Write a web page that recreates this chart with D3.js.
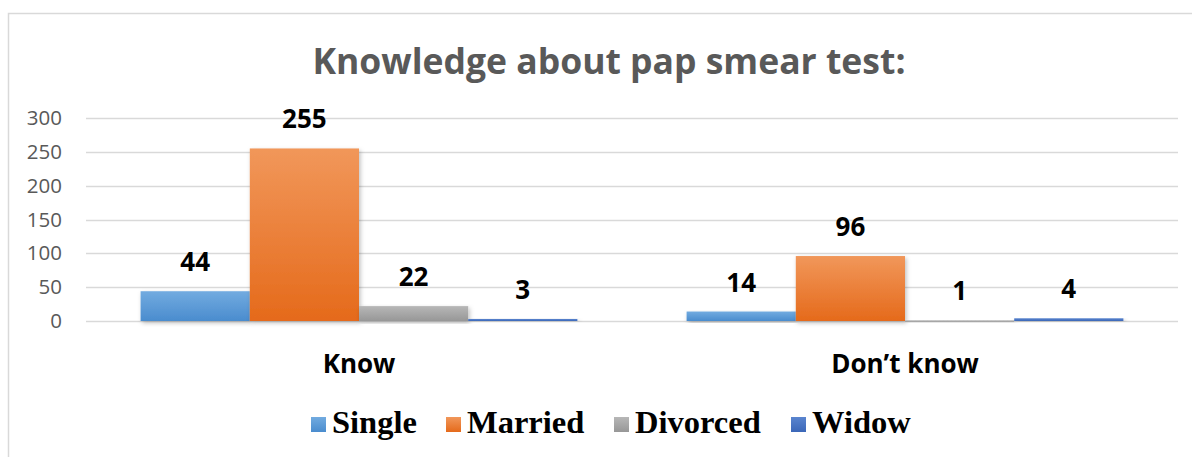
<!DOCTYPE html>
<html>
<head>
<meta charset="utf-8">
<script src="https://cdn.jsdelivr.net/npm/d3@7"></script>
<style>
  body { margin: 0; background: #fff; }
  svg { display: block; }
</style>
</head>
<body>
<svg id="chart" width="1192" height="457"></svg>
<script>
const categories = ['Know', 'Don\u2019t know'];
const seriesNames = ['Single', 'Married', 'Divorced', 'Widow'];
const single = [44, 14];
const married = [255, 96];
const divorced = [22, 1];
const widow = [3, 4];
const yTicks = [0, 50, 100, 150, 200, 250, 300];

const colors = ['#5B9BD5', '#ED7D31', '#A5A5A5', '#4472C4'];
const topColors = ['#72ABE0', '#F1975A', '#B7B7B7', '#5A85CF'];
const bottomColors = ['#4A8CCE', '#E56A1B', '#979797', '#3B67B8'];

const values = [single, married, divorced, widow];
const rows = categories.map((c, i) => ({
  category: c,
  bars: seriesNames.map((s, j) => ({ series: s, idx: j, value: values[j][i] }))
}));

const svg = d3.select('#chart');
const margin = { left: 86, right: 14, top: 118, bottom: 136 };
const width = 1192, height = 457;

// outer chart border (right and bottom are cut off in the original)
svg.append('rect')
  .attr('x', 8.5).attr('y', 13.5)
  .attr('width', 1200).attr('height', 460)
  .attr('fill', 'none').attr('stroke', '#d9d9d9').attr('stroke-width', 1.5);

const defs = svg.append('defs');
colors.forEach((c, i) => {
  const g = defs.append('linearGradient')
    .attr('id', 'grad' + i).attr('x1', 0).attr('y1', 0).attr('x2', 0).attr('y2', 1);
  g.append('stop').attr('offset', '0%').attr('stop-color', topColors[i]);
  g.append('stop').attr('offset', '100%').attr('stop-color', bottomColors[i]);
});
const shadow = defs.append('filter').attr('id', 'shadow')
  .attr('x', '-10%').attr('y', '-10%').attr('width', '130%').attr('height', '130%');
shadow.append('feDropShadow')
  .attr('dx', 1.5).attr('dy', 2).attr('stdDeviation', 2)
  .attr('flood-color', '#000').attr('flood-opacity', 0.25);

const x0 = d3.scaleBand()
  .domain(categories)
  .range([margin.left, width - margin.right])
  .paddingInner(0.2).paddingOuter(0.1);

const x1 = d3.scaleBand()
  .domain(seriesNames)
  .range([0, x0.bandwidth()]);

const y = d3.scaleLinear()
  .domain([0, 300])
  .range([height - margin.bottom, margin.top]);

// title
svg.append('text')
  .attr('x', 609).attr('y', 74)
  .attr('text-anchor', 'middle')
  .attr('font-family', 'Open Sans, sans-serif')
  .attr('font-weight', 700)
  .attr('font-size', 35.5)
  .attr('fill', '#595959')
  .text('Knowledge about pap smear test:');

// gridlines
svg.append('g')
  .selectAll('line')
  .data(yTicks)
  .enter().append('line')
  .attr('x1', margin.left).attr('x2', width - margin.right)
  .attr('y1', d => Math.round(y(d)) + 0.5).attr('y2', d => Math.round(y(d)) + 0.5)
  .attr('stroke', '#d9d9d9').attr('stroke-width', 1.3);

// y axis labels
const yAxis = svg.append('g')
  .attr('transform', `translate(${margin.left - 24},0)`)
  .call(d3.axisLeft(y).tickValues(yTicks).tickSize(0).tickPadding(0));
yAxis.select('.domain').remove();
yAxis.selectAll('text')
  .attr('font-family', 'Open Sans, sans-serif')
  .attr('font-size', 20.5)
  .attr('fill', '#595959');

// bars
const groups = svg.append('g')
  .selectAll('g')
  .data(rows)
  .enter().append('g')
  .attr('transform', d => `translate(${x0(d.category)},0)`);

groups.selectAll('rect')
  .data(d => d.bars)
  .enter().append('rect')
  .attr('x', d => x1(d.series))
  .attr('y', d => y(d.value))
  .attr('width', x1.bandwidth())
  .attr('height', d => Math.max(1.5, y(0) - y(d.value)))
  .attr('fill', d => `url(#grad${d.idx})`)
  .attr('filter', 'url(#shadow)');

// data labels
groups.selectAll('text')
  .data(d => d.bars)
  .enter().append('text')
  .attr('x', d => x1(d.series) + x1.bandwidth() / 2)
  .attr('y', d => y(d.value) - 20)
  .attr('text-anchor', 'middle')
  .attr('font-family', 'Open Sans, sans-serif')
  .attr('font-weight', 700)
  .attr('font-size', 26)
  .attr('fill', '#000')
  .text(d => d.value);

// category labels
svg.append('g')
  .selectAll('text')
  .data(categories)
  .enter().append('text')
  .attr('x', d => x0(d) + x0.bandwidth() / 2)
  .attr('y', 373)
  .attr('text-anchor', 'middle')
  .attr('font-family', 'Open Sans, sans-serif')
  .attr('font-weight', 700)
  .attr('font-size', 26)
  .attr('fill', '#000')
  .text(d => d);

// legend
const legendX = [311, 446, 614, 791];
const legend = svg.append('g')
  .selectAll('g')
  .data(seriesNames)
  .enter().append('g')
  .attr('transform', (d, i) => `translate(${legendX[i]},0)`);
legend.append('rect')
  .attr('x', 0).attr('y', 417)
  .attr('width', 15).attr('height', 15)
  .attr('fill', (d, i) => `url(#grad${i})`);
legend.append('text')
  .attr('x', 21).attr('y', 433)
  .attr('font-family', 'Liberation Serif, Times New Roman, serif')
  .attr('font-weight', 700)
  .attr('font-size', 32.5)
  .attr('fill', '#000')
  .text(d => d);
</script>
</body>
</html>
